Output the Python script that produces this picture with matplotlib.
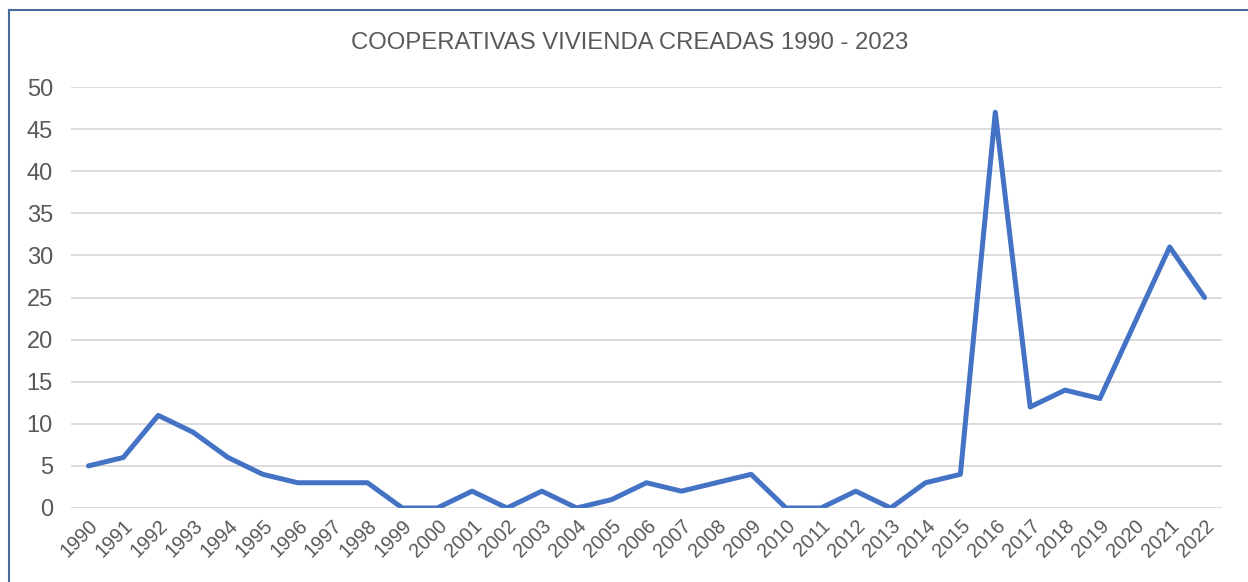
import matplotlib
matplotlib.use("Agg")
import matplotlib.pyplot as plt
from matplotlib.lines import Line2D

plt.rcParams['font.family'] = ['Liberation Sans', 'DejaVu Sans']

years = [str(y) for y in range(1990, 2023)]
values = [5, 6, 11, 9, 6, 4, 3, 3, 3, 0, 0, 2, 0, 2, 0, 1, 3, 2, 3, 4,
          0, 0, 2, 0, 3, 4, 47, 12, 14, 13, 22, 31, 25]
yticks = [0, 5, 10, 15, 20, 25, 30, 35, 40, 45, 50]

W, H = 1248, 582
fig = plt.figure(figsize=(W / 100, H / 100), dpi=100)
ax = fig.add_axes([71 / W, 1 - 508 / H, (1222 - 71) / W, (508 - 87) / H])

x = list(range(len(years)))
ax.plot(x, values, color='#4472C4', linewidth=3.6, solid_joinstyle='round',
        solid_capstyle='round', zorder=3)

ax.set_xlim(-0.5, len(years) - 0.5)
ax.set_ylim(0, 50)
ax.set_yticks(yticks)
ax.set_xticks(x)
ax.set_xticklabels(years, rotation=45, ha='right', rotation_mode='anchor')
ax.grid(axis='y', color='#D9D9D9', linewidth=1.3)
ax.set_axisbelow(True)
for s in ax.spines.values():
    s.set_visible(False)
ax.tick_params(axis='both', length=0, colors='#595959')
ax.tick_params(axis='y', labelsize=17, pad=13)
ax.tick_params(axis='x', labelsize=14.3, pad=6)

fig.text(630 / W, 1 - 43 / H, 'COOPERATIVAS VIVIENDA CREADAS 1990 - 2023',
         ha='center', va='center', fontsize=17.2, color='#595959')

# chart area border (left and top edges visible)
fig.add_artist(Line2D([9 / W, 9 / W], [0, 1 - 10 / H], transform=fig.transFigure,
                      color='#4A6A9E', linewidth=1.5))
fig.add_artist(Line2D([9 / W, 1], [1 - 10 / H, 1 - 10 / H], transform=fig.transFigure,
                      color='#4A6A9E', linewidth=1.5))

fig.savefig('out.png', dpi=100)
